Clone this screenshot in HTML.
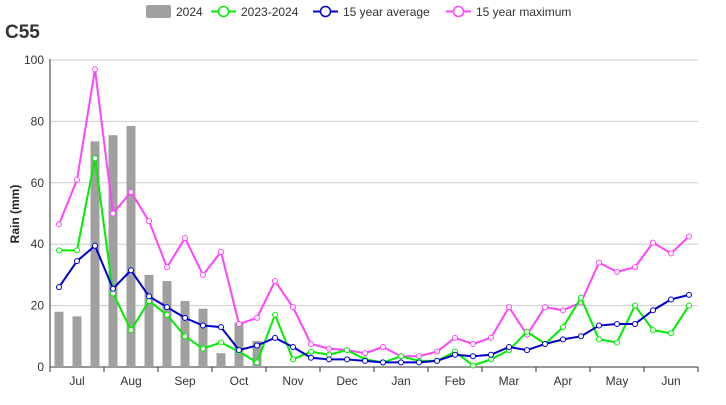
<!DOCTYPE html>
<html><head><meta charset="utf-8"><style>
body{margin:0;background:#fff;font-family:"Liberation Sans",sans-serif;}
svg text{font-family:"Liberation Sans",sans-serif;}
</style></head><body>
<svg id="c" width="726" height="400">
<text x="5" y="38" font-size="19" font-weight="bold" fill="#333">C55</text>
<text transform="translate(19,214) rotate(-90)" text-anchor="middle" font-size="12" font-weight="bold" fill="#222">Rain (mm)</text>
<g id="legend">
<g><rect x="146" y="5" width="25" height="13" rx="2" fill="#a0a0a0"/><text x="176" y="16" font-size="12" fill="#333">2024</text></g>
<g><line x1="211" y1="11.5" x2="236" y2="11.5" stroke="#00ee00" stroke-width="2"/><circle cx="223.5" cy="11.5" r="5" fill="#fff" stroke="#00ee00" stroke-width="1.5"/><text x="241" y="16" font-size="12" fill="#333">2023-2024</text></g>
<g><line x1="313" y1="11.5" x2="338" y2="11.5" stroke="#0000cc" stroke-width="2"/><circle cx="325.5" cy="11.5" r="5" fill="#fff" stroke="#0000cc" stroke-width="1.5"/><text x="343" y="16" font-size="12" fill="#333">15 year average</text></g>
<g><line x1="446" y1="11.5" x2="471" y2="11.5" stroke="#ff44ff" stroke-width="2"/><circle cx="458.5" cy="11.5" r="5" fill="#fff" stroke="#ff44ff" stroke-width="1.5"/><text x="476" y="16" font-size="12" fill="#333">15 year maximum</text></g>
</g>
</svg>
<script>
const months=["Jul","Aug","Sep","Oct","Nov","Dec","Jan","Feb","Mar","Apr","May","Jun"];
const yTicks=[0,20,40,60,80,100];
const bars2024=[18,16.5,73.5,75.5,78.5,30,28,21.5,19,4.5,14.5,8.5];
const s2023=[38,38,68,24,12,21.5,17,10,6,8,5,1.5,17,2.5,5,4,5.5,2.5,1.5,3.5,2,2,5,0.5,2.5,5.5,11.5,7.5,13,22.5,9,8,20,12,11,20];
const avg15=[26,34.5,39.5,25.5,31.5,23,19.5,16,13.5,13,5.5,7,9.5,6.5,3,2.5,2.5,2,1.5,1.5,1.5,2,4,3.5,4,6.5,5.5,7.5,9,10,13.5,14,14,18.5,22,23.5];
const max15=[46.5,61,97,50,57,47.5,32.5,42,30,37.5,14,16,28,19.5,7.5,6,5.5,4.5,6.5,3.5,3.5,5,9.5,7.5,9.5,19.5,10.5,19.5,18.5,21,34,31,32.5,40.5,37,42.5];
const svg=document.getElementById('c');const NS='http://www.w3.org/2000/svg';
const X0=50,X1=698,Y0=367,Y1=60,N=36;
const x=i=>X0+(i+0.5)*(X1-X0)/N;
const y=v=>Y0-v*(Y0-Y1)/100;
function mk(t,a,p){const e=document.createElementNS(NS,t);for(const k in a)e.setAttribute(k,a[k]);(p||svg).appendChild(e);return e;}
yTicks.forEach(v=>{
 const g=mk('line',{x1:X0,x2:X1,y1:y(v),y2:y(v),stroke:v===0?'#333':'#ccc','stroke-width':1});
 
 
 const t=mk('text',{x:44,y:y(v)+4,'text-anchor':'end','font-size':12,fill:'#333'});t.textContent=v;
 
 
});
const ax=mk('line',{x1:X0,x2:X0,y1:Y1-1,y2:Y0,stroke:'#333'});


const mw=(X1-X0)/months.length;
months.forEach((m,i)=>{
 const tk=mk('line',{x1:X0+i*mw,x2:X0+i*mw,y1:Y0,y2:Y0+5,stroke:'#333'});
 
 
 const t=mk('text',{x:X0+(i+0.5)*mw,y:Y0+18,'text-anchor':'middle','font-size':12,fill:'#333'});t.textContent=m;
 
 
});
mk('line',{x1:X1,x2:X1,y1:Y0,y2:Y0+5,stroke:'#333'});
bars2024.forEach((v,i)=>{
 const b=mk('rect',{x:x(i)-4.5,y:y(v),width:9,height:Y0-y(v),fill:'#a0a0a0'});
 
 
});
function series(d,col,name){
 const l=mk('polyline',{points:d.map((v,i)=>x(i)+','+y(v)).join(' '),fill:'none',stroke:col,'stroke-width':2});
 
 
 d.forEach((v,i)=>{const c=mk('circle',{cx:x(i),cy:y(v),r:2.5,fill:'#fff',stroke:col,'stroke-width':1});
 
 });
}
series(max15,'#ff44ff','max15');
series(s2023,'#00ee00','s2023');
series(avg15,'#0000cc','avg15');
</script>
</body></html>
